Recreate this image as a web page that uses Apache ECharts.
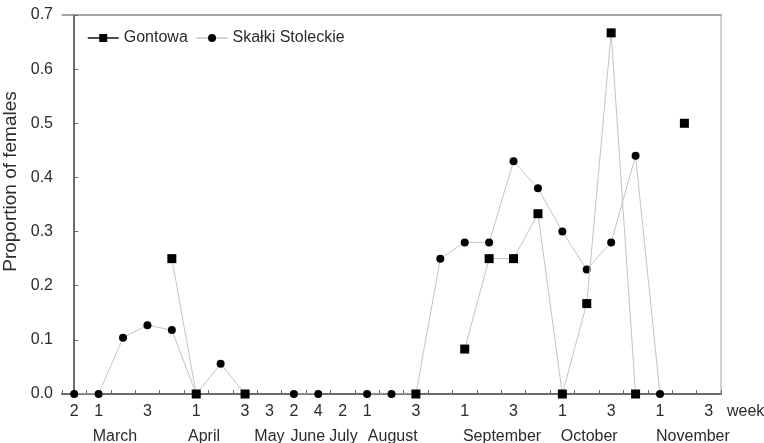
<!DOCTYPE html>
<html>
<head>
<meta charset="utf-8">
<script src="https://cdn.jsdelivr.net/npm/echarts@6/dist/echarts.min.js"></script>
<style>
  html, body { margin: 0; padding: 0; background: #fff; }
  #chart { width: 764px; height: 443px; }
</style>
</head>
<body>
<div id="chart"></div>
<script>
// Sampling weeks, March to November; only some carry a week-of-month label
const weekLabels = ['2', '1', '', '3', '', '1', '', '3', '3', '2', '4', '2', '1', '', '3', '',
                    '1', '', '3', '', '1', '', '3', '', '1', '', '3'];

// Month names under the week row and where each sits (in sampling-week units)
const monthNames = ['March', 'April', 'May', 'June', 'July', 'August', 'September', 'October', 'November'];
const monthCenters = [1.67, 5.32, 8.0, 9.57, 11.03, 13.05, 17.53, 21.1, 25.35];

// Proportion of females per sampling week (null = no sample)
const gontowa = [null, null, null, null, 0.25, 0, null, 0, null, null, null, null, null, null, 0,
                 null, 0.083, 0.25, 0.25, 0.333, 0, 0.167, 0.667, 0, null, 0.5, null];
const skalki = [0, 0, 0.104, 0.127, 0.118, 0, 0.056, 0, null, 0, 0, null, 0, 0, 0,
                0.25, 0.28, 0.28, 0.43, 0.38, 0.30, 0.23, 0.28, 0.44, 0, null, null];

const categories = weekLabels.map((w, i) => String(i));

const FONT = 'Liberation Sans, Arial, sans-serif';
const TEXT = '#2b2b2b';
const SERIES_LINE = '#c4c4c4';

const chart = echarts.init(document.getElementById('chart'), null, { renderer: 'canvas' });

chart.setOption({
  animation: false,
  backgroundColor: '#fff',
  textStyle: { fontFamily: FONT },
  grid: { left: 62, right: 43, top: 15, bottom: 49, containLabel: false, outerBoundsMode: 'none' },
  legend: {
    left: 82, top: 25,
    itemWidth: 31, itemHeight: 10, itemGap: 8,
    textStyle: { fontFamily: FONT, fontSize: 16, color: TEXT },
    data: [
      { name: 'Gontowa', lineStyle: { color: '#111', width: 1.5 } },
      { name: 'Skałki Stoleckie', lineStyle: { color: SERIES_LINE, width: 1.5 } }
    ]
  },
  xAxis: [
    {
      type: 'category',
      data: categories,
      boundaryGap: true,
      position: 'bottom',
      name: 'week',
      nameLocation: 'end',
      nameGap: 6,
      nameTextStyle: { fontFamily: FONT, fontSize: 16, color: TEXT, verticalAlign: 'top', padding: [10, 0, 0, 0] },
      axisLine: { lineStyle: { color: '#6a6a6a', width: 2 } },
      axisTick: { show: true, inside: true, length: 4, lineStyle: { color: '#6a6a6a', width: 1 } },
      axisLabel: {
        interval: 0, margin: 10,
        fontFamily: FONT, fontSize: 16, color: TEXT,
        formatter: (v, i) => weekLabels[i]
      },
      splitLine: { show: false }
    },
    {
      type: 'value',
      min: -0.5, max: 26.5,
      position: 'bottom',
      axisLine: { show: false },
      axisTick: { show: false },
      splitLine: { show: false },
      axisLabel: {
        customValues: monthCenters,
        margin: 35,
        fontFamily: FONT, fontSize: 16, color: TEXT,
        formatter: (v) => {
          const k = monthCenters.findIndex(c => Math.abs(c - v) < 1e-6);
          return k >= 0 ? monthNames[k] : '';
        }
      }
    },
    {
      type: 'category',
      data: categories,
      position: 'top',
      axisLine: { lineStyle: { color: '#8a8a8a', width: 1.5 } },
      axisTick: { show: false },
      axisLabel: { show: false },
      splitLine: { show: false }
    }
  ],
  yAxis: [
    {
      type: 'value',
      min: 0, max: 0.7, interval: 0.1,
      name: 'Proportion of females',
      nameLocation: 'middle',
      nameGap: 38,
      nameTextStyle: { fontFamily: FONT, fontSize: 19, color: TEXT, padding: [0, 0, 0, 46] },
      axisLine: { show: true, lineStyle: { color: '#6a6a6a', width: 2 } },
      axisTick: { show: true, inside: true, length: 4, lineStyle: { color: '#6a6a6a', width: 1 } },
      axisLabel: {
        margin: 9,
        fontFamily: FONT, fontSize: 16, color: TEXT,
        formatter: (v) => v.toFixed(1)
      },
      splitLine: { show: false }
    },
    {
      type: 'value',
      min: 0, max: 0.7,
      position: 'right',
      axisLine: { show: true, lineStyle: { color: '#c0c0c0', width: 1.5 } },
      axisTick: { show: false },
      axisLabel: { show: false },
      splitLine: { show: false }
    }
  ],
  series: [
    {
      name: 'Gontowa',
      type: 'line',
      xAxisIndex: 0, yAxisIndex: 0,
      data: gontowa,
      connectNulls: false,
      symbol: 'rect',
      symbolSize: 9,
      z: 4,
      itemStyle: { color: '#000' },
      lineStyle: { color: SERIES_LINE, width: 1 }
    },
    {
      name: 'Skałki Stoleckie',
      type: 'line',
      xAxisIndex: 0, yAxisIndex: 0,
      data: skalki,
      connectNulls: false,
      symbol: 'circle',
      symbolSize: 8,
      z: 3,
      itemStyle: { color: '#000' },
      lineStyle: { color: SERIES_LINE, width: 1 }
    }
  ]
});
</script>
</body>
</html>
